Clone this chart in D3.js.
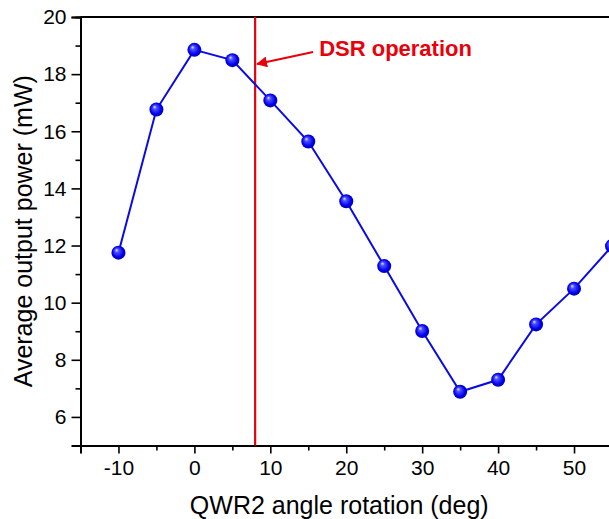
<!DOCTYPE html>
<html><head><meta charset="utf-8">
<script src="https://cdn.jsdelivr.net/npm/d3@7"></script>
<style>html,body{margin:0;padding:0;background:#fff;overflow:hidden}svg{display:block;font-family:"Liberation Sans",Arial,sans-serif}</style>
</head><body>
<svg id="c" width="609" height="519"></svg>
<script>
const angles = [-10, -5, 0, 5, 10, 15, 20, 25, 30, 35, 40, 45, 50, 55];
const power = [11.75, 16.76, 18.85, 18.49, 17.08, 15.64, 13.55, 11.28, 9.01, 6.88, 7.3, 9.24, 10.49, 11.98];
const xMajor = [-10, 0, 10, 20, 30, 40, 50];
const xMinor = [-15, -5, 5, 15, 25, 35, 45, 55];
const yMajor = [6, 8, 10, 12, 14, 16, 18, 20];
const yMinor = [5, 7, 9, 11, 13, 15, 17, 19];
const dsrAngle = 8;
const xTitle = "QWR2 angle rotation (deg)";
const yTitle = "Average output power (mW)";
const noteText = "DSR operation";

const svg = d3.select("#c");
const x = d3.scaleLinear().domain([-15, 55]).range([80.5, 612]);
const y = d3.scaleLinear().domain([5, 20]).range([445.5, 17]);
const fmt = d => String(d);

const defs = svg.append("defs");
const g = defs.append("radialGradient").attr("id","ball").attr("cx","50%").attr("cy","50%").attr("r","55%").attr("fx","35%").attr("fy","30%");
g.append("stop").attr("offset","0%").attr("stop-color","#e8e8ff");
g.append("stop").attr("offset","25%").attr("stop-color","#5050ff");
g.append("stop").attr("offset","70%").attr("stop-color","#0000f0");
g.append("stop").attr("offset","100%").attr("stop-color","#0000a0");
defs.append("marker").attr("id","arr").attr("viewBox","0 0 10 10").attr("refX",9).attr("refY",5)
  .attr("markerWidth",5).attr("markerHeight",5).attr("markerUnits","strokeWidth").attr("orient","auto")
  .append("path").attr("d","M0,0L10,5L0,10z").attr("fill","#e8000b");

// axes
const xAxis = svg.append("g").attr("transform",`translate(0,${y(5)})`)
  .call(d3.axisBottom(x).tickValues(xMajor).tickSize(8).tickPadding(7).tickFormat(fmt));
const xAxisMinor = svg.append("g").attr("transform",`translate(0,${y(5)})`)
  .call(d3.axisBottom(x).tickValues(xMinor).tickSize(5).tickFormat(""));
const yAxis = svg.append("g").attr("transform",`translate(${x(-15)},0)`)
  .call(d3.axisLeft(y).tickValues(yMajor).tickSize(9).tickPadding(5).tickFormat(fmt));
const yAxisMinor = svg.append("g").attr("transform",`translate(${x(-15)},0)`)
  .call(d3.axisLeft(y).tickValues(yMinor).tickSize(5).tickFormat(""));
[xAxis,xAxisMinor,yAxis,yAxisMinor].forEach(a=>{
  a.select(".domain").attr("stroke","#000").attr("stroke-width",2);
  a.selectAll(".tick line").attr("stroke","#000").attr("stroke-width",1.6);
  a.selectAll(".tick text").attr("font-size",21).attr("fill","#000").attr("font-family","Liberation Sans, Arial, sans-serif");
});
// top frame
svg.append("line").attr("x1",x(-15)).attr("x2",x(55)).attr("y1",y(20)).attr("y2",y(20)).attr("stroke","#000").attr("stroke-width",2);
svg.append("line").attr("x1",x(55)).attr("x2",x(55)).attr("y1",y(20)).attr("y2",y(5)).attr("stroke","#000").attr("stroke-width",2);

// titles
svg.append("text").attr("x",(x(-15)+x(55))/2 - 7).attr("y",514).attr("text-anchor","middle").attr("font-size",25).text(xTitle);
svg.append("text").attr("transform",`translate(32,${(y(5)+y(20))/2})rotate(-90)`).attr("text-anchor","middle").attr("font-size",25).text(yTitle);

// red line
svg.append("line").attr("x1",x(dsrAngle)).attr("x2",x(dsrAngle)).attr("y1",y(20)).attr("y2",y(5)).attr("stroke","#e8000b").attr("stroke-width",2.2);

// data line
const pts = angles.map((a,i)=>[a,power[i]]);
svg.append("path").datum(pts).attr("fill","none").attr("stroke","#0a0ae6").attr("stroke-width",2)
  .attr("d",d3.line().x(d=>x(d[0])).y(d=>y(d[1])));
svg.append("g").selectAll("circle").data(pts).join("circle")
  .attr("cx",d=>x(d[0])).attr("cy",d=>y(d[1])).attr("r",7).attr("fill","url(#ball)");

// annotation
svg.append("line").attr("x1",x(dsrAngle)+58).attr("y1",52).attr("x2",x(dsrAngle)+2).attr("y2",64)
  .attr("stroke","#e8000b").attr("stroke-width",2.2).attr("marker-end","url(#arr)");
svg.append("text").attr("x",x(dsrAngle)+64).attr("y",56).attr("font-size",22).attr("font-weight","bold").attr("fill","#e8000b").text(noteText);
</script>
</body></html>
